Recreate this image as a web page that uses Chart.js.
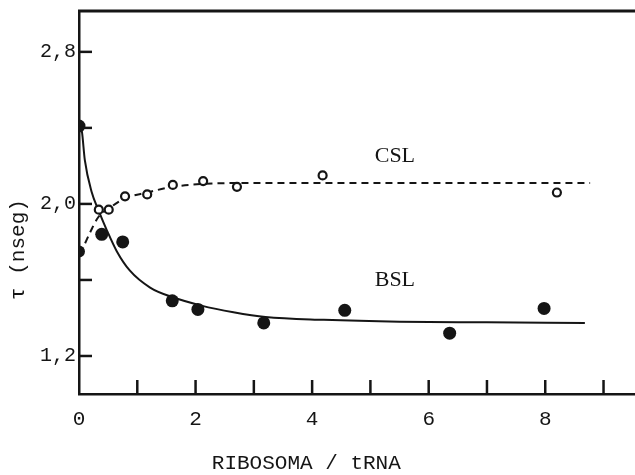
<!DOCTYPE html>
<html>
<head>
<meta charset="utf-8">
<script src="https://cdn.jsdelivr.net/npm/chart.js@4.4.1/dist/chart.umd.min.js"></script>
<style>
  html, body { margin: 0; padding: 0; background: #fff; }
  #wrap { width: 635px; height: 475px; }
</style>
</head>
<body>
<div id="wrap"><canvas id="grafico" width="635" height="475"></canvas></div>
<script>
// Puntos medidos (BSL = rellenos, CSL = abiertos)
var bslX = [0, 0.39, 0.75, 1.6, 2.04, 3.17, 4.56, 6.36, 7.98];
var bslY = [2.41, 1.84, 1.80, 1.49, 1.445, 1.374, 1.44, 1.32, 1.45];
var cslX = [0.34, 0.51, 0.79, 1.17, 1.61, 2.13, 2.71, 4.18, 8.2];
var cslY = [1.97, 1.97, 2.04, 2.05, 2.10, 2.12, 2.09, 2.15, 2.06];
// punto relleno en 0 donde arranca la curva CSL
var libreX = [0];
var libreY = [1.75];

// Curvas trazadas a mano sobre la figura
var curvaBslX = [0, 0.05, 0.1, 0.22, 0.33, 0.48, 0.65, 0.87, 1.22, 1.6, 2.1, 2.65, 3.2, 4.2, 5.5, 7, 8.68];
var curvaBslY = [2.42, 2.38, 2.23, 2.06, 1.97, 1.86, 1.75, 1.65, 1.56, 1.51, 1.465, 1.43, 1.405, 1.39, 1.38, 1.377, 1.374];
var curvaCslX = [0, 0.05, 0.19, 0.33, 0.53, 0.79, 1.17, 1.61, 2.13, 3, 4.2, 6, 8.77];
var curvaCslY = [1.74, 1.76, 1.85, 1.93, 1.98, 2.03, 2.06, 2.09, 2.105, 2.11, 2.11, 2.11, 2.11];

// Ejes
var xTicks = [0, 1, 2, 3, 4, 5, 6, 7, 8, 9];
var xTickLabels = ["0", "", "2", "", "4", "", "6", "", "8", ""];
var yTicks = [1.2, 1.6, 2.0, 2.4, 2.8];
var yTickLabels = ["1,2", "", "2,0", "", "2,8"];

function pares(xs, ys) {
  return xs.map(function (v, i) { return { x: v, y: ys[i] }; });
}

var tinta = "#151515";
var mono = "'Liberation Mono', 'DejaVu Sans Mono', monospace";

// marcas hacia dentro, borde superior y textos
var adornos = {
  id: "adornos",
  afterDraw: function (chart) {
    var ctx = chart.ctx;
    var a = chart.chartArea;
    var x = chart.scales.x;
    var y = chart.scales.y;
    ctx.save();
    ctx.strokeStyle = tinta;
    ctx.lineWidth = 3;
    ctx.beginPath();
    ctx.moveTo(a.left - 1, a.top);
    ctx.lineTo(a.right, a.top);
    ctx.stroke();

    ctx.lineWidth = 2.5;
    xTicks.forEach(function (v) {
      if (v === 0) return;
      var px = x.getPixelForValue(v);
      ctx.beginPath();
      ctx.moveTo(px, a.bottom);
      ctx.lineTo(px, a.bottom - 14);
      ctx.stroke();
    });
    yTicks.forEach(function (v) {
      var py = y.getPixelForValue(v);
      ctx.beginPath();
      ctx.moveTo(a.left, py);
      ctx.lineTo(a.left + 13, py);
      ctx.stroke();
    });

    ctx.fillStyle = tinta;
    ctx.textAlign = "center";
    ctx.textBaseline = "middle";
    ctx.font = "22px 'Liberation Serif', serif";
    ctx.fillText("CSL", x.getPixelForValue(5.42), y.getPixelForValue(2.25));
    ctx.fillText("BSL", x.getPixelForValue(5.42), y.getPixelForValue(1.6));

    ctx.font = "21px " + mono;
    ctx.fillText("RIBOSOMA / tRNA", x.getPixelForValue(3.9), 463);

    ctx.translate(18, y.getPixelForValue(1.76));
    ctx.rotate(-Math.PI / 2);
    ctx.fillText("\u03c4 (nseg)", 0, 0);
    ctx.restore();
  }
};

var ctx = document.getElementById("grafico").getContext("2d");
var grafico = new Chart(ctx, {
  type: "scatter",
  data: {
    datasets: [
      {
        label: "BSL",
        data: pares(bslX, bslY),
        pointRadius: 6.5,
        pointBackgroundColor: tinta,
        pointBorderColor: tinta,
        pointBorderWidth: 0,
        clip: { left: 0, top: false, right: false, bottom: false }
      },
      {
        label: "tRNA",
        data: pares(libreX, libreY),
        pointRadius: 6,
        pointBackgroundColor: tinta,
        pointBorderWidth: 0,
        clip: { left: 0, top: false, right: false, bottom: false }
      },
      {
        label: "CSL",
        data: pares(cslX, cslY),
        pointRadius: 4,
        pointBackgroundColor: "#fff",
        pointBorderColor: tinta,
        pointBorderWidth: 2.2
      },
      {
        label: "ajuste BSL",
        data: pares(curvaBslX, curvaBslY),
        showLine: true,
        pointRadius: 0,
        borderColor: tinta,
        borderWidth: 2,
        cubicInterpolationMode: "monotone"
      },
      {
        label: "ajuste CSL",
        data: pares(curvaCslX, curvaCslY),
        showLine: true,
        pointRadius: 0,
        borderColor: tinta,
        borderWidth: 2,
        borderDash: [7, 5],
        cubicInterpolationMode: "monotone"
      }
    ]
  },
  options: {
    responsive: false,
    animation: false,
    devicePixelRatio: 1,
    layout: { autoPadding: false, padding: { top: 11, right: 0, left: 0, bottom: 0 } },
    plugins: { legend: { display: false }, tooltip: { enabled: false } },
    scales: {
      x: {
        type: "linear",
        min: 0,
        max: 9.54,
        afterBuildTicks: function (s) {
          s.ticks = xTicks.map(function (v) { return { value: v }; });
        },
        afterFit: function (s) {
          s.height = 81;
          s.paddingLeft = 0;
          s.paddingRight = 0;
        },
        grid: { display: false, drawTicks: false },
        border: { display: true, width: 2.5, color: tinta },
        ticks: {
          padding: 13,
          color: tinta,
          font: { family: mono, size: 21 },
          maxRotation: 0,
          autoSkip: false,
          callback: function (v) {
            var i = xTicks.indexOf(v);
            return i >= 0 ? xTickLabels[i] : "";
          }
        }
      },
      y: {
        type: "linear",
        min: 1.0,
        max: 3.015,
        afterBuildTicks: function (s) {
          s.ticks = yTicks.map(function (v) { return { value: v }; });
        },
        afterFit: function (s) {
          s.width = 79;
          s.paddingTop = 0;
          s.paddingBottom = 0;
        },
        grid: { display: false, drawTicks: false },
        border: { display: true, width: 2.5, color: tinta },
        ticks: {
          padding: 3,
          color: tinta,
          font: { family: mono, size: 20 },
          autoSkip: false,
          callback: function (v) {
            var i = yTicks.findIndex(function (t) { return Math.abs(t - v) < 1e-6; });
            return i >= 0 ? yTickLabels[i] : "";
          }
        }
      }
    }
  },
  plugins: [adornos]
});
</script>
</body>
</html>
